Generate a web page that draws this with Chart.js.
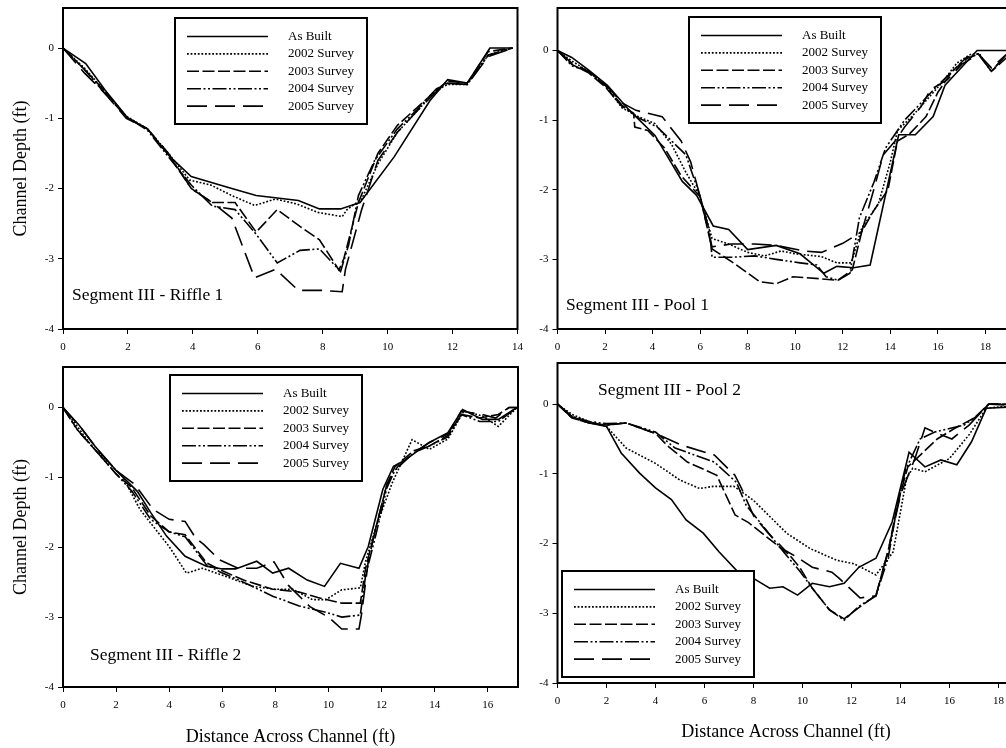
<!DOCTYPE html>
<html>
<head>
<meta charset="utf-8">
<script src="https://cdn.jsdelivr.net/npm/chart.js@4"></script>
<style>
  html, body { margin: 0; padding: 0; background: #fff; overflow: hidden; width: 1006px; height: 748px; }
  canvas { position: absolute; }
</style>
</head>
<body>
<canvas id="riffle1" width="530" height="364" style="left:0;top:-4px"></canvas>
<canvas id="pool1" width="530" height="364" style="left:500px;top:-4px"></canvas>
<canvas id="riffle2" width="530" height="393" style="left:0;top:355px"></canvas>
<canvas id="pool2" width="530" height="397" style="left:500px;top:351px"></canvas>
<script>
// channel cross-section surveys, Segment III — [distance ft, depth ft]

const seriesLabels = ['As Built', '2002 Survey', '2003 Survey', '2004 Survey', '2005 Survey'];
const depthTicks = [0, -1, -2, -3, -4];

// ── Riffle 1 ─────────────────────────────────────────────────────
const riffle1XTicks = [0, 2, 4, 6, 8, 10, 12, 14];
const riffle1AsBuilt = [[0,0],[0.7,-0.22],[1.3,-0.6],[2.0,-1.0],[2.6,-1.15],[3.3,-1.55],[3.95,-1.83],[5.2,-2.0],[5.95,-2.1],[7.25,-2.17],[7.9,-2.29],[8.55,-2.29],[9.15,-2.2],[10.2,-1.55],[11.3,-0.75],[11.85,-0.45],[12.45,-0.5],[13.15,0],[13.85,0]];
const riffle1Y2002 = [[0,0],[0.65,-0.28],[1.3,-0.62],[1.95,-0.97],[2.6,-1.15],[3.25,-1.5],[3.9,-1.88],[4.55,-1.95],[5.2,-2.1],[5.9,-2.24],[6.55,-2.15],[7.2,-2.22],[7.85,-2.34],[8.6,-2.4],[8.75,-2.3],[9.2,-2.15],[9.7,-1.65],[10.3,-1.2],[10.9,-0.9],[11.5,-0.6],[11.85,-0.52],[12.45,-0.52],[13.1,-0.1],[13.85,0]];
const riffle1Y2003 = [[0,0],[0.65,-0.3],[1.3,-0.62],[1.95,-0.98],[2.6,-1.15],[3.25,-1.52],[3.95,-2.0],[4.6,-2.2],[5.3,-2.2],[5.95,-2.62],[6.6,-2.3],[7.3,-2.54],[7.9,-2.73],[8.5,-3.16],[8.65,-3.0],[9.1,-2.2],[9.7,-1.5],[10.3,-1.1],[10.9,-0.85],[11.5,-0.6],[11.85,-0.47],[12.45,-0.5],[13.1,-0.05],[13.85,0]];
const riffle1Y2004 = [[0,0],[0.65,-0.3],[1.3,-0.65],[1.95,-0.98],[2.6,-1.17],[3.25,-1.55],[3.95,-1.95],[4.6,-2.25],[5.3,-2.3],[5.95,-2.65],[6.6,-3.06],[7.3,-2.88],[7.9,-2.86],[8.55,-3.18],[8.8,-2.8],[9.1,-2.1],[9.6,-1.6],[10.3,-1.15],[10.9,-0.88],[11.5,-0.58],[11.85,-0.5],[12.45,-0.52],[13.1,-0.1],[13.85,0]];
const riffle1Y2005 = [[0,0],[0.65,-0.35],[1.3,-0.65],[1.95,-1.0],[2.6,-1.15],[3.25,-1.5],[3.95,-2.0],[4.6,-2.2],[5.2,-2.42],[5.9,-3.27],[6.55,-3.15],[7.25,-3.45],[7.95,-3.45],[8.6,-3.47],[8.7,-3.15],[9.2,-2.3],[9.7,-1.6],[10.3,-1.2],[10.9,-0.9],[11.5,-0.62],[11.85,-0.5],[12.45,-0.52],[13.1,-0.12],[13.85,0]];

// ── Pool 1 ───────────────────────────────────────────────────────
const pool1XTicks = [0, 2, 4, 6, 8, 10, 12, 14, 16, 18];
const pool1AsBuilt = [[0,0],[0.6,-0.1],[1.3,-0.28],[2.1,-0.5],[3.0,-0.85],[4.1,-1.22],[5.25,-1.88],[5.85,-2.08],[6.55,-2.52],[7.2,-2.57],[8.0,-2.86],[9.2,-2.8],[10.2,-2.92],[11.2,-3.2],[11.75,-3.1],[12.45,-3.12],[13.15,-3.08],[14.35,-1.21],[15.05,-1.21],[15.8,-0.95],[16.3,-0.5],[17.65,0],[19.5,0]];
const pool1Y2002 = [[0,0],[0.6,-0.15],[1.3,-0.3],[2.0,-0.5],[2.7,-0.82],[3.4,-0.95],[4.1,-1.05],[4.8,-1.35],[5.4,-1.75],[6.0,-2.1],[6.5,-2.7],[7.2,-2.78],[8.0,-2.9],[8.7,-2.95],[9.4,-2.88],[10.0,-2.92],[11.1,-2.96],[11.75,-3.05],[12.35,-3.05],[12.8,-2.55],[13.5,-2.2],[14.0,-1.6],[14.3,-1.15],[14.9,-0.95],[15.5,-0.72],[16.2,-0.45],[16.8,-0.18],[17.4,-0.05],[17.75,-0.05],[18.25,-0.3],[18.9,-0.05],[19.5,0]];
const pool1Y2003 = [[0,0],[0.6,-0.2],[1.3,-0.32],[2.0,-0.52],[2.7,-0.8],[3.2,-0.9],[3.25,-1.1],[3.8,-1.15],[4.5,-1.4],[5.2,-1.8],[6.0,-2.1],[6.5,-2.85],[7.4,-3.05],[8.5,-3.32],[9.2,-3.35],[9.9,-3.25],[11.1,-3.28],[11.8,-3.3],[12.4,-3.15],[12.8,-2.6],[13.3,-2.3],[13.9,-2.0],[14.3,-1.3],[14.8,-1.2],[15.5,-0.95],[16.0,-0.6],[16.6,-0.3],[17.2,-0.12],[17.7,-0.05],[18.25,-0.3],[18.9,-0.1],[19.5,0]];
const pool1Y2004 = [[0,0],[0.6,-0.22],[1.3,-0.3],[2.0,-0.5],[2.7,-0.78],[3.3,-0.95],[4.2,-1.1],[4.8,-1.3],[5.4,-1.5],[6.0,-2.1],[6.4,-2.6],[6.5,-2.97],[7.3,-2.97],[8.3,-2.95],[9.2,-3.0],[10.2,-3.05],[10.9,-3.08],[11.3,-3.25],[11.8,-3.3],[12.3,-3.2],[12.7,-2.4],[13.3,-1.9],[13.8,-1.4],[14.2,-1.2],[14.6,-1.0],[15.3,-0.75],[16.0,-0.5],[16.6,-0.3],[17.2,-0.1],[17.7,-0.05],[18.25,-0.3],[18.9,-0.05],[19.5,0]];
const pool1Y2005 = [[0,0],[0.6,-0.18],[1.3,-0.3],[2.0,-0.48],[2.7,-0.75],[3.3,-0.86],[4.4,-0.95],[5.2,-1.3],[5.6,-1.6],[6.0,-2.1],[6.5,-2.82],[7.3,-2.78],[8.3,-2.78],[9.2,-2.8],[10.4,-2.88],[11.1,-2.9],[12.0,-2.77],[12.8,-2.6],[13.3,-2.0],[13.7,-1.5],[14.2,-1.3],[14.6,-1.1],[15.3,-0.8],[15.7,-0.56],[16.4,-0.42],[17.0,-0.2],[17.7,-0.05],[18.25,-0.25],[18.9,-0.05],[19.5,0]];

// ── Riffle 2 ─────────────────────────────────────────────────────
const riffle2XTicks = [0, 2, 4, 6, 8, 10, 12, 14, 16];
const riffle2AsBuilt = [[0,0],[0.6,-0.25],[1.2,-0.55],[2.0,-0.9],[2.8,-1.2],[3.3,-1.5],[3.9,-1.84],[4.6,-2.13],[5.4,-2.27],[6.0,-2.31],[6.5,-2.31],[7.3,-2.2],[7.9,-2.37],[8.5,-2.3],[9.2,-2.47],[9.85,-2.56],[10.45,-2.23],[11.15,-2.3],[11.5,-1.99],[12.05,-1.17],[12.45,-0.84],[12.9,-0.75],[13.8,-0.5],[14.5,-0.36],[15.05,-0.03],[15.8,-0.17],[16.4,-0.17],[17.1,0]];
const riffle2Y2002 = [[0,0],[0.5,-0.25],[1.1,-0.56],[2.25,-0.99],[2.9,-1.46],[3.5,-1.75],[4.0,-1.99],[4.65,-2.37],[5.25,-2.3],[6.15,-2.42],[7.15,-2.56],[8.0,-2.6],[8.65,-2.6],[9.4,-2.75],[9.9,-2.75],[10.5,-2.61],[11.2,-2.58],[11.4,-2.2],[11.8,-1.7],[12.4,-1.08],[13.15,-0.46],[13.8,-0.6],[14.5,-0.45],[15.1,-0.05],[15.8,-0.12],[16.4,-0.27],[17.1,0]];
const riffle2Y2003 = [[0,0],[0.6,-0.35],[1.2,-0.6],[2.0,-0.95],[2.6,-1.15],[3.3,-1.55],[4.0,-1.78],[4.6,-1.82],[5.4,-2.22],[5.9,-2.32],[6.8,-2.47],[7.9,-2.6],[8.9,-2.64],[9.6,-2.72],[10.5,-2.8],[11.2,-2.8],[11.4,-2.3],[11.8,-1.7],[12.2,-1.1],[12.5,-0.85],[13.2,-0.62],[13.8,-0.55],[14.5,-0.4],[15.0,-0.1],[15.7,-0.15],[16.4,-0.1],[16.8,0],[17.1,0]];
const riffle2Y2004 = [[0,0],[0.5,-0.3],[1.2,-0.6],[2.0,-0.95],[2.6,-1.2],[3.3,-1.6],[4.0,-1.78],[4.6,-1.85],[5.4,-2.25],[5.9,-2.35],[6.8,-2.5],[7.9,-2.7],[8.9,-2.84],[9.9,-2.93],[10.5,-3.0],[11.2,-2.97],[11.4,-2.4],[11.8,-1.8],[12.2,-1.15],[12.5,-0.9],[13.2,-0.65],[13.8,-0.55],[14.5,-0.42],[15.0,-0.1],[15.7,-0.2],[16.4,-0.2],[17.1,0]];
const riffle2Y2005 = [[0,0],[0.7,-0.3],[1.3,-0.6],[2.0,-0.9],[2.7,-1.1],[3.4,-1.46],[4.0,-1.6],[4.6,-1.63],[5.0,-1.87],[5.3,-1.96],[5.9,-2.18],[6.6,-2.3],[7.3,-2.3],[7.95,-2.21],[8.5,-2.55],[9.3,-2.85],[10.0,-3.0],[10.5,-3.17],[11.15,-3.17],[11.25,-2.95],[11.5,-2.2],[11.8,-1.7],[12.2,-1.1],[12.6,-0.85],[13.2,-0.65],[13.8,-0.5],[14.5,-0.38],[15.0,-0.05],[15.8,-0.1],[16.3,-0.15],[16.8,0],[17.1,0]];

// ── Pool 2 ───────────────────────────────────────────────────────
const pool2XTicks = [0, 2, 4, 6, 8, 10, 12, 14, 16, 18];
const pool2AsBuilt = [[0,0],[0.6,-0.18],[1.3,-0.27],[2.0,-0.32],[2.6,-0.7],[3.35,-0.99],[4.0,-1.2],[4.65,-1.37],[5.25,-1.66],[5.95,-1.85],[6.6,-2.12],[7.4,-2.42],[8.0,-2.5],[8.66,-2.64],[9.2,-2.62],[9.8,-2.74],[10.4,-2.57],[11.1,-2.62],[11.7,-2.57],[12.3,-2.34],[13.0,-2.21],[13.66,-1.69],[14.35,-0.69],[15.0,-0.9],[15.65,-0.8],[16.3,-0.87],[16.9,-0.54],[17.5,-0.06],[18.6,-0.04]];
const pool2Y2002 = [[0,0],[0.6,-0.15],[1.3,-0.25],[2.0,-0.32],[2.8,-0.63],[4.0,-0.85],[5.0,-1.09],[5.8,-1.21],[6.35,-1.18],[7.2,-1.18],[8.0,-1.38],[9.35,-1.85],[10.3,-2.07],[11.4,-2.24],[12.1,-2.29],[13.0,-2.45],[13.7,-2.12],[14.25,-1.06],[14.5,-0.92],[15.0,-0.97],[16.0,-0.78],[16.8,-0.44],[17.5,-0.06],[18.6,-0.02]];
const pool2Y2003 = [[0,0],[0.6,-0.2],[1.3,-0.27],[2.0,-0.3],[2.8,-0.27],[4.0,-0.42],[4.5,-0.6],[5.3,-0.83],[6.5,-1.02],[7.25,-1.59],[7.8,-1.7],[8.45,-1.88],[9.46,-2.16],[9.9,-2.35],[10.4,-2.64],[11.1,-2.95],[11.7,-3.08],[12.3,-2.92],[13.0,-2.74],[13.5,-2.1],[13.9,-1.4],[14.3,-0.9],[14.9,-0.7],[15.5,-0.5],[16.2,-0.35],[17.0,-0.2],[17.6,0],[18.6,0]];
const pool2Y2004 = [[0,0],[0.6,-0.18],[1.3,-0.25],[2.0,-0.28],[2.8,-0.27],[4.0,-0.4],[4.8,-0.63],[6.4,-0.83],[7.3,-1.12],[7.7,-1.45],[8.5,-1.8],[9.3,-2.15],[9.9,-2.4],[10.4,-2.64],[11.1,-2.95],[11.7,-3.1],[12.3,-2.9],[13.0,-2.75],[13.5,-2.2],[13.8,-1.6],[14.2,-0.95],[14.8,-0.5],[15.4,-0.4],[16.0,-0.35],[16.6,-0.3],[17.2,-0.15],[17.6,0],[18.6,-0.02]];
const pool2Y2005 = [[0,0],[0.6,-0.2],[1.3,-0.27],[2.0,-0.3],[2.8,-0.27],[4.0,-0.42],[5.08,-0.59],[6.4,-0.73],[7.24,-1.02],[7.5,-1.2],[8.0,-1.6],[8.6,-1.85],[9.3,-2.1],[9.8,-2.2],[10.4,-2.34],[11.2,-2.41],[11.5,-2.5],[12.35,-2.78],[13.0,-2.75],[13.5,-2.1],[14.0,-1.3],[14.6,-0.77],[15.0,-0.34],[15.5,-0.42],[16.1,-0.5],[16.8,-0.3],[17.6,0],[18.6,0]];

// ── Styles ───────────────────────────────────────────────────────
const SERIF = '"Liberation Serif", "Times New Roman", serif';
const DASHES = [[], [1.8, 1.8], [12, 3.5], [14, 2.5, 2, 2.5, 2, 2.5], [20, 8]];

// frame, panel name and boxed legend drawn over the plot
const panelDecor = {
  id: 'panelDecor',
  afterDatasetsDraw(chart, args, o) {
    const { ctx, chartArea: a } = chart;
    ctx.save();
    ctx.strokeStyle = '#000';
    ctx.fillStyle = '#000';
    ctx.lineWidth = 2;
    ctx.strokeRect(a.left, a.top, a.right - a.left, a.bottom - a.top);

    ctx.textBaseline = 'middle';
    ctx.font = '17.5px ' + SERIF;
    ctx.fillText(o.name, a.left + o.nameAt[0], a.top + o.nameAt[1]);

    const bx = a.left + o.legendAt[0], by = a.top + o.legendAt[1];
    ctx.fillStyle = '#fff';
    ctx.fillRect(bx, by, 192, 106);
    ctx.strokeRect(bx, by, 192, 106);
    ctx.fillStyle = '#000';
    ctx.font = '13px ' + SERIF;
    chart.data.datasets.forEach((ds, i) => {
      const y = by + 18.5 + i * 17.4;
      ctx.lineWidth = ds.borderWidth;
      ctx.setLineDash(ds.borderDash);
      ctx.beginPath();
      ctx.moveTo(bx + 12, y);
      ctx.lineTo(bx + 93, y);
      ctx.stroke();
      ctx.setLineDash([]);
      ctx.fillText(ds.label, bx + 113, y);
    });
    ctx.restore();
  }
};

function makePanel(id, p) {
  new Chart(document.getElementById(id), {
    type: 'line',
    data: {
      datasets: p.series.map((pts, i) => ({
        label: seriesLabels[i],
        data: pts,
        borderColor: '#000',
        borderWidth: 1.6,
        borderDash: DASHES[i],
        pointRadius: 0,
        tension: 0,
        fill: false
      }))
    },
    options: {
      responsive: false,
      animation: false,
      layout: { padding: { left: 0, top: p.top, right: p.right, bottom: 0 } },
      plugins: {
        legend: { display: false },
        tooltip: { enabled: false },
        panelDecor: { name: p.name, nameAt: p.nameAt, legendAt: p.legendAt }
      },
      scales: {
        x: {
          type: 'linear', min: 0, max: p.xMax,
          afterBuildTicks: s => { s.ticks = p.xTicks.map(v => ({ value: v })); },
          afterFit: s => { s.height = p.xAxisH; },
          grid: { drawOnChartArea: false, tickLength: 5, color: '#000' },
          border: { display: false },
          ticks: { color: '#000', font: { family: SERIF, size: 11 }, padding: 7, maxRotation: 0, autoSkip: false },
          title: {
            display: !!p.xTitle, text: 'Distance Across Channel (ft)', color: '#000',
            font: { family: SERIF, size: 18 }, padding: { top: 0, bottom: p.xTitlePad || 0 }
          }
        },
        y: {
          type: 'linear', min: -4, max: p.yMax,
          afterBuildTicks: s => { s.ticks = depthTicks.map(v => ({ value: v })); },
          afterFit: s => { s.width = p.yAxisW; },
          grid: { drawOnChartArea: false, tickLength: 5, color: '#000' },
          border: { display: false },
          ticks: { color: '#000', font: { family: SERIF, size: 11 }, padding: 4 },
          title: {
            display: !!p.yTitle, text: 'Channel Depth (ft)', color: '#000',
            font: { family: SERIF, size: 18 }, padding: { top: 10, bottom: 0 }
          }
        }
      }
    },
    plugins: [panelDecor]
  });
}

// canvases start 12px above each plot box so the top padding covers tick labels
makePanel('riffle1', {
  series: [riffle1AsBuilt, riffle1Y2002, riffle1Y2003, riffle1Y2004, riffle1Y2005],
  name: 'Segment III - Riffle 1', nameAt: [9, 287], legendAt: [112, 10],
  xTicks: riffle1XTicks, xMax: 14, yMax: 0.57,
  top: 12, right: 11, yAxisW: 63, xAxisH: 31, yTitle: true
});
makePanel('pool1', {
  series: [pool1AsBuilt, pool1Y2002, pool1Y2003, pool1Y2004, pool1Y2005],
  name: 'Segment III - Pool 1', nameAt: [8.5, 297], legendAt: [131.5, 9],
  xTicks: pool1XTicks, xMax: 19.2, yMax: 0.61,
  top: 12, right: 16, yAxisW: 57.5, xAxisH: 31
});
makePanel('riffle2', {
  series: [riffle2AsBuilt, riffle2Y2002, riffle2Y2003, riffle2Y2004, riffle2Y2005],
  name: 'Segment III - Riffle 2', nameAt: [27, 288], legendAt: [107, 8],
  xTicks: riffle2XTicks, xMax: 17.14, yMax: 0.58,
  top: 12, right: 12, yAxisW: 63, xAxisH: 61, yTitle: true, xTitle: true, xTitlePad: 0
});
makePanel('pool2', {
  series: [pool2AsBuilt, pool2Y2002, pool2Y2003, pool2Y2004, pool2Y2005],
  name: 'Segment III - Pool 2', nameAt: [40.5, 27], legendAt: [4.5, 208],
  xTicks: pool2XTicks, xMax: 18.65, yMax: 0.59,
  top: 12, right: 15.6, yAxisW: 57.5, xAxisH: 65, xTitle: true, xTitlePad: 5
});
</script>
</body>
</html>
